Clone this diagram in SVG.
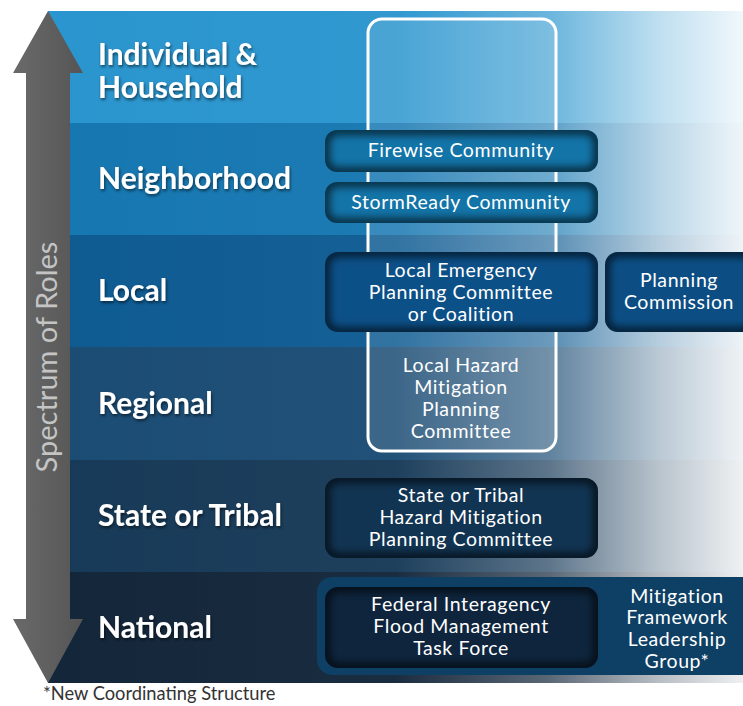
<svg xmlns="http://www.w3.org/2000/svg" width="743" height="706" viewBox="0 0 743 706">
<defs>
<style>
.row{font-family:Lato,"Open Sans","Liberation Sans",sans-serif;font-weight:bold;font-size:30px;fill:#ffffff;filter:url(#ts)}
.bt{font-family:Lato,"Open Sans","Liberation Sans",sans-serif;font-size:19.5px;letter-spacing:0.6px;fill:#ffffff;text-anchor:middle}
.spec{font-family:Lato,"Open Sans","Liberation Sans",sans-serif;font-size:29px;fill:#c4c4c4;text-anchor:middle}
.foot{font-family:Lato,"Open Sans","Liberation Sans",sans-serif;font-size:18.3px;fill:#333333}
.edge{fill:none;stroke:#000000;stroke-opacity:0.7;stroke-width:9;filter:url(#bl)}
</style>
<filter id="ts" x="-10%" y="-30%" width="120%" height="160%">
<feDropShadow dx="1" dy="2" stdDeviation="1.5" flood-color="#000000" flood-opacity="0.55"/>
</filter>
<filter id="bl" x="-20%" y="-50%" width="140%" height="200%">
<feGaussianBlur stdDeviation="4"/>
</filter>
<clipPath id="cFw"><rect x="325" y="130" width="273" height="42" rx="12"/></clipPath>
<clipPath id="cSr"><rect x="325" y="182" width="273" height="41" rx="12"/></clipPath>
<clipPath id="cLe"><rect x="325" y="252" width="273" height="80" rx="13"/></clipPath>
<clipPath id="cPc"><rect x="605" y="252" width="150" height="80" rx="13"/></clipPath>
<clipPath id="cSt"><rect x="325" y="478" width="273" height="80" rx="13"/></clipPath>
<clipPath id="cFe"><rect x="325" y="587" width="273" height="81" rx="13"/></clipPath>
<linearGradient id="fade" x1="48" y1="0" x2="743" y2="0" gradientUnits="userSpaceOnUse">
<stop offset="0" stop-color="#ffffff" stop-opacity="0"/>
<stop offset="0.5" stop-color="#ffffff" stop-opacity="0.03"/>
<stop offset="0.72" stop-color="#ffffff" stop-opacity="0.3"/>
<stop offset="0.88" stop-color="#ffffff" stop-opacity="0.7"/>
<stop offset="1" stop-color="#ffffff" stop-opacity="0.93"/>
</linearGradient>
<linearGradient id="arr" x1="0" y1="0" x2="1" y2="0">
<stop offset="0" stop-color="#6a6a6a"/>
<stop offset="1" stop-color="#555555"/>
</linearGradient>
</defs>

<g id="bands">
<rect x="48" y="11" width="695" height="112" fill="#2a95ce"/>
<rect x="48" y="123" width="695" height="112" fill="#1677b1"/>
<rect x="48" y="235" width="695" height="112" fill="#0e5b92"/>
<rect x="48" y="347" width="695" height="113" fill="#1b4c74"/>
<rect x="48" y="460" width="695" height="112" fill="#173a58"/>
<rect x="48" y="572" width="695" height="111" fill="#13263a"/>
<rect x="48" y="11" width="695" height="672" fill="url(#fade)"/>
</g>

<g id="arrow">
<polygon points="48,11 83,73 70,73 70,619 83,619 48,683 13,619 26,619 26,73 13,73" fill="url(#arr)"/>
<text class="spec" transform="translate(57,357) rotate(-90)">Spectrum of Roles</text>
</g>

<g id="labels">
<text class="row" x="98" y="65">Individual &amp;</text>
<text class="row" x="98" y="98">Household</text>
<text class="row" x="98" y="189">Neighborhood</text>
<text class="row" x="98" y="301">Local</text>
<text class="row" x="98" y="414">Regional</text>
<text class="row" x="98" y="526">State or Tribal</text>
<text class="row" x="98" y="638">National</text>
</g>

<g id="connectors"></g>

<g id="lhmpc">
<rect x="368" y="19" width="188" height="432" rx="14" fill="#ffffff" fill-opacity="0.12" stroke="#ffffff" stroke-width="3"/>
<text class="bt" x="461" y="372">Local Hazard</text>
<text class="bt" x="461" y="394">Mitigation</text>
<text class="bt" x="461" y="416">Planning</text>
<text class="bt" x="461" y="438">Committee</text>
</g>

<g id="firewise">
<rect x="325" y="130" width="273" height="42" rx="12" fill="#1374a8"/>
<g clip-path="url(#cFw)"><rect class="edge" x="325" y="130" width="273" height="42" rx="12"/></g>
<text class="bt" x="461" y="157">Firewise Community</text>
</g>

<g id="stormready">
<rect x="325" y="182" width="273" height="41" rx="12" fill="#1374a8"/>
<g clip-path="url(#cSr)"><rect class="edge" x="325" y="182" width="273" height="41" rx="12"/></g>
<text class="bt" x="461" y="209">StormReady Community</text>
</g>

<g id="lepc">
<rect x="325" y="252" width="273" height="80" rx="13" fill="#0c5088"/>
<g clip-path="url(#cLe)"><rect class="edge" x="325" y="252" width="273" height="80" rx="13"/></g>
<text class="bt" x="461" y="277">Local Emergency</text>
<text class="bt" x="461" y="299">Planning Committee</text>
<text class="bt" x="461" y="321">or Coalition</text>
</g>

<g id="planning">
<rect x="605" y="252" width="150" height="80" rx="13" fill="#0c4e84"/>
<g clip-path="url(#cPc)"><rect class="edge" x="605" y="252" width="150" height="80" rx="13"/></g>
<text class="bt" x="679" y="287">Planning</text>
<text class="bt" x="679" y="309">Commission</text>
</g>

<g id="state">
<rect x="325" y="478" width="273" height="80" rx="13" fill="#113452"/>
<g clip-path="url(#cSt)"><rect class="edge" x="325" y="478" width="273" height="80" rx="13"/></g>
<text class="bt" x="461" y="502">State or Tribal</text>
<text class="bt" x="461" y="524">Hazard Mitigation</text>
<text class="bt" x="461" y="546">Planning Committee</text>
</g>

<g id="mflg">
<rect x="317" y="577" width="440" height="98" rx="15" fill="#0e3f64"/>
<text class="bt" x="677" y="603">Mitigation</text>
<text class="bt" x="677" y="624">Framework</text>
<text class="bt" x="677" y="646">Leadership</text>
<text class="bt" x="677" y="668">Group*</text>
</g>

<g id="fiafmtf">
<rect x="325" y="587" width="273" height="81" rx="13" fill="#0e253d"/>
<g clip-path="url(#cFe)"><rect class="edge" x="325" y="587" width="273" height="81" rx="13"/></g>
<text class="bt" x="461" y="611">Federal Interagency</text>
<text class="bt" x="461" y="633">Flood Management</text>
<text class="bt" x="461" y="655">Task Force</text>
</g>

<text class="foot" x="43" y="700">*New Coordinating Structure</text>
</svg>
